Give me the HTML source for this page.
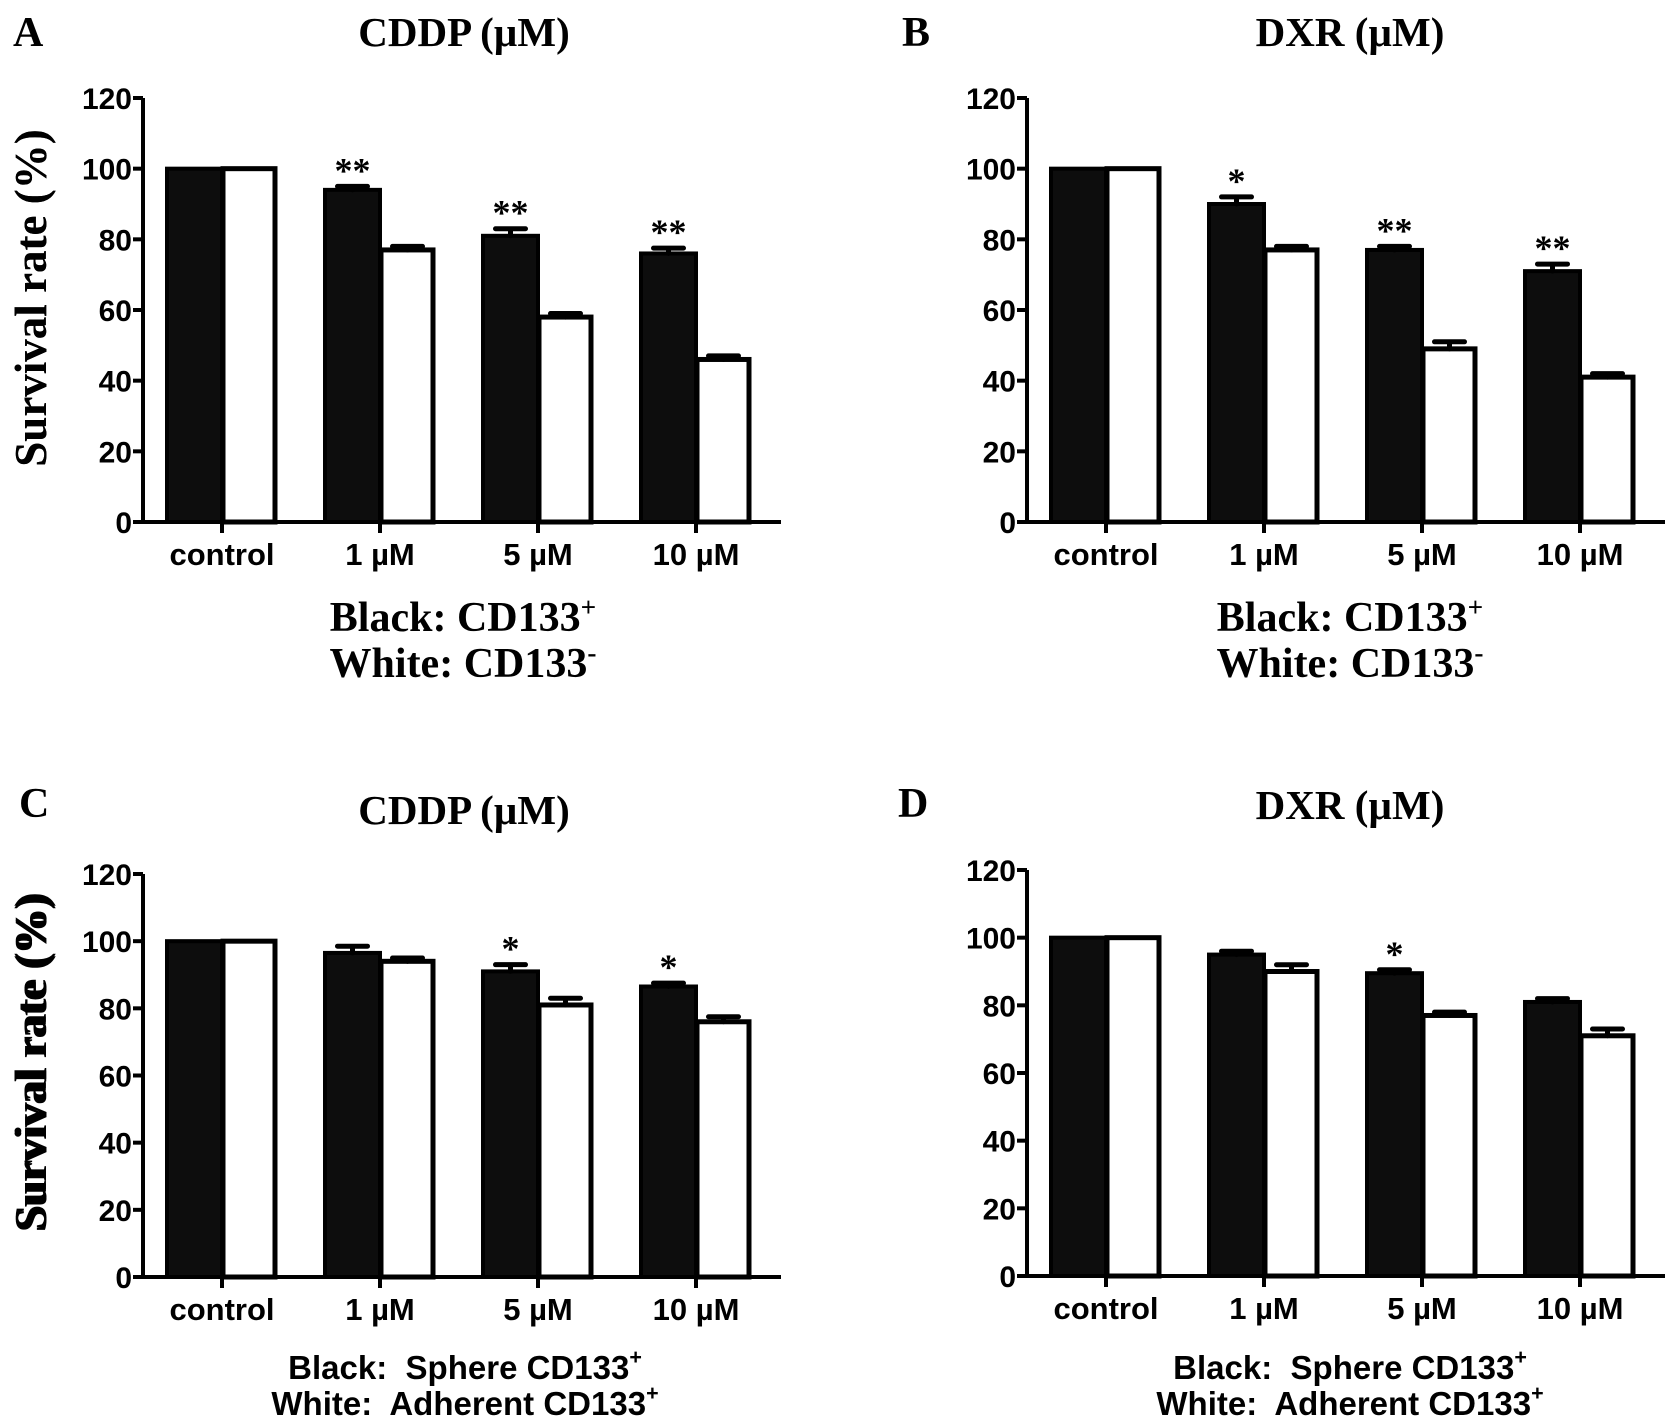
<!DOCTYPE html>
<html><head><meta charset="utf-8">
<style>
html,body{margin:0;padding:0;background:#fff;}
svg{display:block;}
.t{font-family:"Liberation Serif",serif;font-weight:bold;fill:#000;}
.s{font-family:"Liberation Sans",sans-serif;font-weight:bold;fill:#000;}
text{white-space:pre;}
</style></head>
<body>
<svg id="fig" width="1677" height="1428" viewBox="0 0 1677 1428" xmlns="http://www.w3.org/2000/svg"></svg>
<script>
const categories = ["control","1 \u00b5M","5 \u00b5M","10 \u00b5M"];
const yTicks = [0,20,40,60,80,100,120];
const aBlack = [100,94,81,76];
const aBlackErr = [0,1,2,1.5];
const aWhite = [100,77,58,46];
const aWhiteErr = [0,1,1,1];
const aStars = ["","**","**","**"];
const bBlack = [100,90,77,71];
const bBlackErr = [0,2,1,2];
const bWhite = [100,77,49,41];
const bWhiteErr = [0,1,2,1];
const bStars = ["","*","**","**"];
const cBlack = [100,96.5,91,86.5];
const cBlackErr = [0,2,2,1];
const cWhite = [100,94,81,76];
const cWhiteErr = [0,1,2,1.5];
const cStars = ["","","*","*"];
const dBlack = [100,95,89.5,81];
const dBlackErr = [0,1,1,1];
const dWhite = [100,90,77,71];
const dWhiteErr = [0,2,1,2];
const dStars = ["","","*",""];

const NS="http://www.w3.org/2000/svg";
const svg=document.getElementById('fig');
function mk(tag,attrs,parent){const e=document.createElementNS(NS,tag);for(const k in attrs)e.setAttribute(k,attrs[k]);(parent||svg).appendChild(e);return e;}

const panels=[
 {id:'a',letter:'A',title:'CDDP (\u00b5M)',ax:143,y0:522,y120:98,black:aBlack,be:aBlackErr,white:aWhite,we:aWhiteErr,stars:aStars,lx:13,ly:46,tx:464,ty:46,legend:['Black: ','CD133','+','White: ','CD133','-'],serifLeg:true,leg1:631,leg2:677,legx:463},
 {id:'b',letter:'B',title:'DXR (\u00b5M)',ax:1027,y0:522,y120:98,black:bBlack,be:bBlackErr,white:bWhite,we:bWhiteErr,stars:bStars,lx:902,ly:46,tx:1350,ty:46,legend:['Black: ','CD133','+','White: ','CD133','-'],serifLeg:true,leg1:631,leg2:677,legx:1350},
 {id:'c',letter:'C',title:'CDDP (\u00b5M)',ax:143,y0:1277,y120:874,black:cBlack,be:cBlackErr,white:cWhite,we:cWhiteErr,stars:cStars,lx:19,ly:817,tx:464,ty:824,legend:['Black:  ','Sphere CD133','+','White:  ','Adherent CD133','+'],serifLeg:false,leg1:1379,leg2:1415,legx:465},
 {id:'d',letter:'D',title:'DXR (\u00b5M)',ax:1027,y0:1276,y120:870,black:dBlack,be:dBlackErr,white:dWhite,we:dWhiteErr,stars:dStars,lx:898,ly:817,tx:1350,ty:819,legend:['Black:  ','Sphere CD133','+','White:  ','Adherent CD133','+'],serifLeg:false,leg1:1379,leg2:1415,legx:1350}
];

panels.forEach(p=>{
  const g=mk('g',{});
  
  
  const yS=v=>p.y0-(v/120)*(p.y0-p.y120);
  const xTick=i=>p.ax+79+i*158;
  const xEnd=p.ax+638;
  const bw=55;
  const L=mk('text',{x:p.lx,y:p.ly,class:'t','font-size':42},g);L.textContent=p.letter;
  
  
  const T=mk('text',{x:p.tx,y:p.ty,class:'t','font-size':41,'text-anchor':'middle'},g);T.textContent=p.title;
  
  
  const yc=(p.y0+p.y120)/2-12;
  const YT=mk('text',{x:0,y:0,class:'t','font-size':45,'text-anchor':'middle',transform:`translate(46,${yc}) rotate(-90)`},g);YT.textContent='Survival rate (%)';
  
  
  p.black.forEach((v,i)=>{
    const xc=xTick(i);
    const r=mk('rect',{x:xc-bw,y:yS(v),width:bw,height:p.y0-yS(v),fill:'#0d0d0d',stroke:'#000','stroke-width':4},g);
    
    
    const w=p.white[i];
    const r2=mk('rect',{x:xc+1,y:yS(w),width:bw-3,height:p.y0-yS(w),fill:'#fff',stroke:'#000','stroke-width':5},g);
    
    
    [[v,p.be[i],xc-bw/2],[w,p.we[i],xc+bw/2]].forEach(([val,e,cx])=>{
      if(e>0){
        const el=mk('path',{d:`M${cx},${yS(val)} V${yS(val+e)} M${cx-15},${yS(val+e)} H${cx+15}`,stroke:'#000','stroke-width':5,'stroke-linecap':'round',fill:'none'},g);
        
        
      }
    });
    if(p.stars[i]){
      const st=mk('text',{x:xc-bw/2,y:yS(v+p.be[i])-4,class:'t','font-size':36,'text-anchor':'middle'},g);st.textContent=p.stars[i];
      
      
    }
    const xl=mk('text',{x:xc,y:p.y0+43,class:'s','font-size':31,'text-anchor':'middle'},g);xl.textContent=categories[i];
    
    
    const tk=mk('line',{x1:xc,x2:xc,y1:p.y0,y2:p.y0+11,stroke:'#000','stroke-width':4},g);
    
    
  });
  const axes=mk('path',{d:`M${p.ax},${p.y120} V${p.y0} H${xEnd}`,stroke:'#000','stroke-width':4,fill:'none'},g);
  
  
  yTicks.forEach(t=>{
    const y=yS(t);
    const tl=mk('line',{x1:p.ax-10,x2:p.ax,y1:y,y2:y,stroke:'#000','stroke-width':4},g);
    
    
    const tx=mk('text',{x:p.ax-11,y:y+11,class:'s','font-size':30,'text-anchor':'end'},g);tx.textContent=t;
    
    
  });
  const cls=p.serifLeg?'t':'s', fs=p.serifLeg?42:33;
  [[p.leg1,0],[p.leg2,3]].forEach(([y,k])=>{
    const lt=mk('text',{x:p.legx,y:y,class:cls,'font-size':fs,'text-anchor':'middle'},g);
    
    
    const a=mk('tspan',{},lt);a.textContent=p.legend[k]+p.legend[k+1];
    const b=mk('tspan',{dy:-15,'font-size':fs*0.65},lt);b.textContent=p.legend[k+2];
  });
});
</script>
</body></html>
